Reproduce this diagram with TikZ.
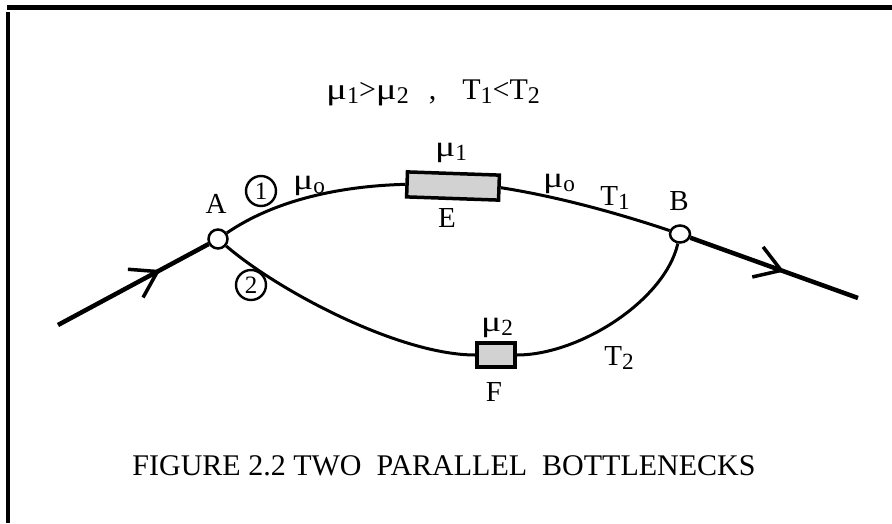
\documentclass[tikz,border=0pt]{standalone}
\usepackage{fontspec}
\usepackage{graphicx}
\setmainfont{Liberation Serif}
\usetikzlibrary{arrows.meta,decorations.markings,shapes.geometric}
\newcommand{\sbs}[1]{\raisebox{-0.3ex}{\scalebox{0.8}{#1}}}
\newcommand{\mmu}{\scalebox{1.3}[1]{μ}}
\tikzset{
  junc/.style={draw, circle, line width=2.5pt, minimum size=19pt, inner sep=0pt, fill=white},
  bneck/.style={draw, line width=3.5pt, fill=gray!35, inner sep=0pt},
  road/.style={line width=3pt},
  flow/.style={line width=4.5pt},
  barb/.tip={Straight Barb[length=25pt, width=32pt, line width=3.5pt]},
  lbl/.style={inner sep=0pt, font=\fontsize{29}{29}\selectfont},
  circnum/.style={draw, circle, line width=2.4pt, minimum size=30pt, inner sep=0pt, font=\fontsize{25}{25}\selectfont},
  eqn/.style={inner sep=0pt, font=\fontsize{30}{30}\selectfont},
  capt/.style={inner sep=0pt, font=\fontsize{30}{30}\selectfont}
}
\begin{document}
\begin{tikzpicture}[x=1pt,y=-1pt]
\useasboundingbox (0,0) rectangle (892,523);
% frame
\fill (7,5) rectangle (892,10);
\fill (6,12) rectangle (10,523);
% junctions and bottlenecks
\node[junc] (A) at (218,239) {};
\node[junc, ellipse, minimum width=20pt, minimum height=17pt] (B) at (680,234) {};
\node[bneck, minimum width=92pt, minimum height=25pt, rotate=-2] (E) at (453,186) {};
\node[bneck, minimum width=38pt, minimum height=24pt] (F) at (496,355) {};
\coordinate (in) at (58,325);
\coordinate (out) at (858,298);
% connectors
\draw[flow, postaction=decorate, decoration={markings, mark=at position 0.68 with {\arrow{barb}}}] (in) -- (A);
\draw[flow, postaction=decorate, decoration={markings, mark=at position 0.56 with {\arrow{barb}}}] (B) -- (out);
\draw[road] (A) .. controls (275,200) and (340,186) .. (E.west);
\draw[road] (E.east) .. controls (560,197) and (620,214) .. (B);
\draw[road] (A) .. controls (280,292) and (400,355) .. (F.west);
\draw[road] (F.east) .. controls (580,355) and (665,300) .. (B);
% labels
\node[lbl] (lA) at (216,204) {A};
\node[lbl] (lB) at (679,201) {B};
\node[lbl] (lE) at (447,218) {E};
\node[lbl] (lF) at (494,392) {F};
\node[circnum] (c1) at (261,191) {1};
\node[circnum] (c2) at (251,285) {2};
\node[lbl] (mo1) at (309,186) {\mmu\sbs{o}};
\node[lbl] (mo2) at (559,184) {\mmu\sbs{o}};
\node[lbl] (m1) at (451,153) {\mmu\sbs{1}};
\node[lbl] (m2) at (497,328) {\mmu\sbs{2}};
\node[lbl] (t1) at (615,198) {T\sbs{1}};
\node[lbl] (t2) at (619,358) {T\sbs{2}};
\node[eqn] (eq) at (433,93) {\mmu\sbs{1}>\mmu\sbs{2}\hspace{20pt},\hspace{26pt}T\sbs{1}<T\sbs{2}};
\node[capt] (cap) at (444,466) {FIGURE 2.2 TWO\ \ PARALLEL\ \ BOTTLENECKS};
\end{tikzpicture}
\end{document}
